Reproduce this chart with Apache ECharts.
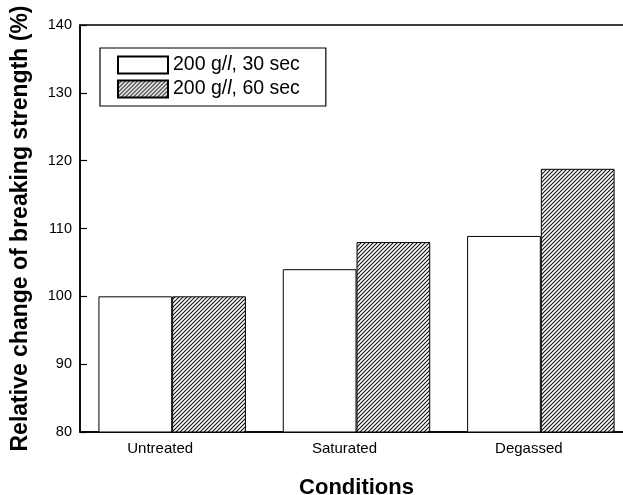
<!DOCTYPE html>
<html>
<head>
<meta charset="utf-8">
<script src="https://cdn.jsdelivr.net/npm/echarts@6/dist/echarts.min.js"></script>
<style>
  html, body { margin: 0; padding: 0; background: #fff; }
  #chart { width: 623px; height: 495px; }
</style>
</head>
<body>
<div id="chart"></div>
<script>
// Breaking strength relative to untreated samples (%)
const conditions = ['Untreated', 'Saturated', 'Degassed'];
const seriesNames = ['200 g/l, 30 sec', '200 g/l, 60 sec'];
const values30s = [100, 104, 108.9];
const values60s = [100, 108, 118.8];
const yTicks = { min: 80, max: 140, step: 10 };

// Diagonal hatching used for the 60 s bars
function makeHatch() {
  const size = 8;
  const c = document.createElement('canvas');
  c.width = size; c.height = size;
  const ctx = c.getContext('2d');
  ctx.fillStyle = '#fff';
  ctx.fillRect(0, 0, size, size);
  ctx.strokeStyle = '#111';
  ctx.lineWidth = 1.1;
  ctx.beginPath();
  for (let k = -2; k <= 2; k++) {
    const o = k * 4;
    ctx.moveTo(o - 1, size + 1);
    ctx.lineTo(o + size + 1, -1);
  }
  ctx.stroke();
  return c;
}

const font = '"Liberation Sans", Arial, Helvetica, sans-serif';
const chart = echarts.init(document.getElementById('chart'), null, { renderer: 'canvas' });

chart.setOption({
  animation: false,
  backgroundColor: '#fff',
  grid: {
    left: 80, top: 25, height: 407, width: 553,
    outerBoundsMode: 'none',
    containLabel: false,
    show: true, borderColor: '#000', borderWidth: 1.5, backgroundColor: 'transparent'
  },
  legend: {
    left: 100, top: 48,
    orient: 'vertical',
    icon: 'rect',
    itemWidth: 50, itemHeight: 17, itemGap: 4,
    padding: [7, 26, 7, 17],
    borderColor: '#000', borderWidth: 1.2,
    backgroundColor: '#fff',
    data: seriesNames,
    formatter: function (name) {
      return name.replace('g/l', 'g/{i|l}');
    },
    textStyle: {
      fontFamily: font, fontSize: 19.5, lineHeight: 17, color: '#000',
      rich: { i: { fontFamily: font, fontSize: 19.5, lineHeight: 17, fontStyle: 'italic', color: '#000' } }
    }
  },
  xAxis: {
    type: 'category',
    data: conditions,
    name: 'Conditions',
    nameLocation: 'middle',
    nameGap: 45,
    nameTextStyle: { fontFamily: font, fontSize: 22, fontWeight: 'bold', color: '#000' },
    axisLine: { lineStyle: { color: '#000', width: 1.5 } },
    axisTick: { show: false },
    axisLabel: {
      fontFamily: font, fontSize: 15, color: '#000', margin: 9,
      padding: [0, 24, 0, 0]
    }
  },
  yAxis: {
    type: 'value',
    min: yTicks.min, max: yTicks.max, interval: yTicks.step,
    name: 'Relative change of breaking strength (%)',
    nameLocation: 'middle',
    nameGap: 48,
    nameTextStyle: { fontFamily: font, fontSize: 23, fontWeight: 'bold', color: '#000' },
    splitLine: { show: false },
    axisLine: { show: true, lineStyle: { color: '#000', width: 1.5 } },
    axisTick: { show: true, inside: true, length: 7, lineStyle: { color: '#000', width: 1.2 } },
    axisLabel: { fontFamily: font, fontSize: 14.5, color: '#000', margin: 8 }
  },
  series: [
    {
      name: seriesNames[0], type: 'bar', data: values30s,
      barGap: '0%', barCategoryGap: '20%',
      itemStyle: { color: '#fff', borderColor: '#000', borderWidth: 1 }
    },
    {
      name: seriesNames[1], type: 'bar', data: values60s,
      barGap: '0%', barCategoryGap: '20%',
      itemStyle: {
        color: { image: makeHatch(), repeat: 'repeat' },
        borderColor: '#000', borderWidth: 1
      }
    }
  ]
});
</script>
</body>
</html>
